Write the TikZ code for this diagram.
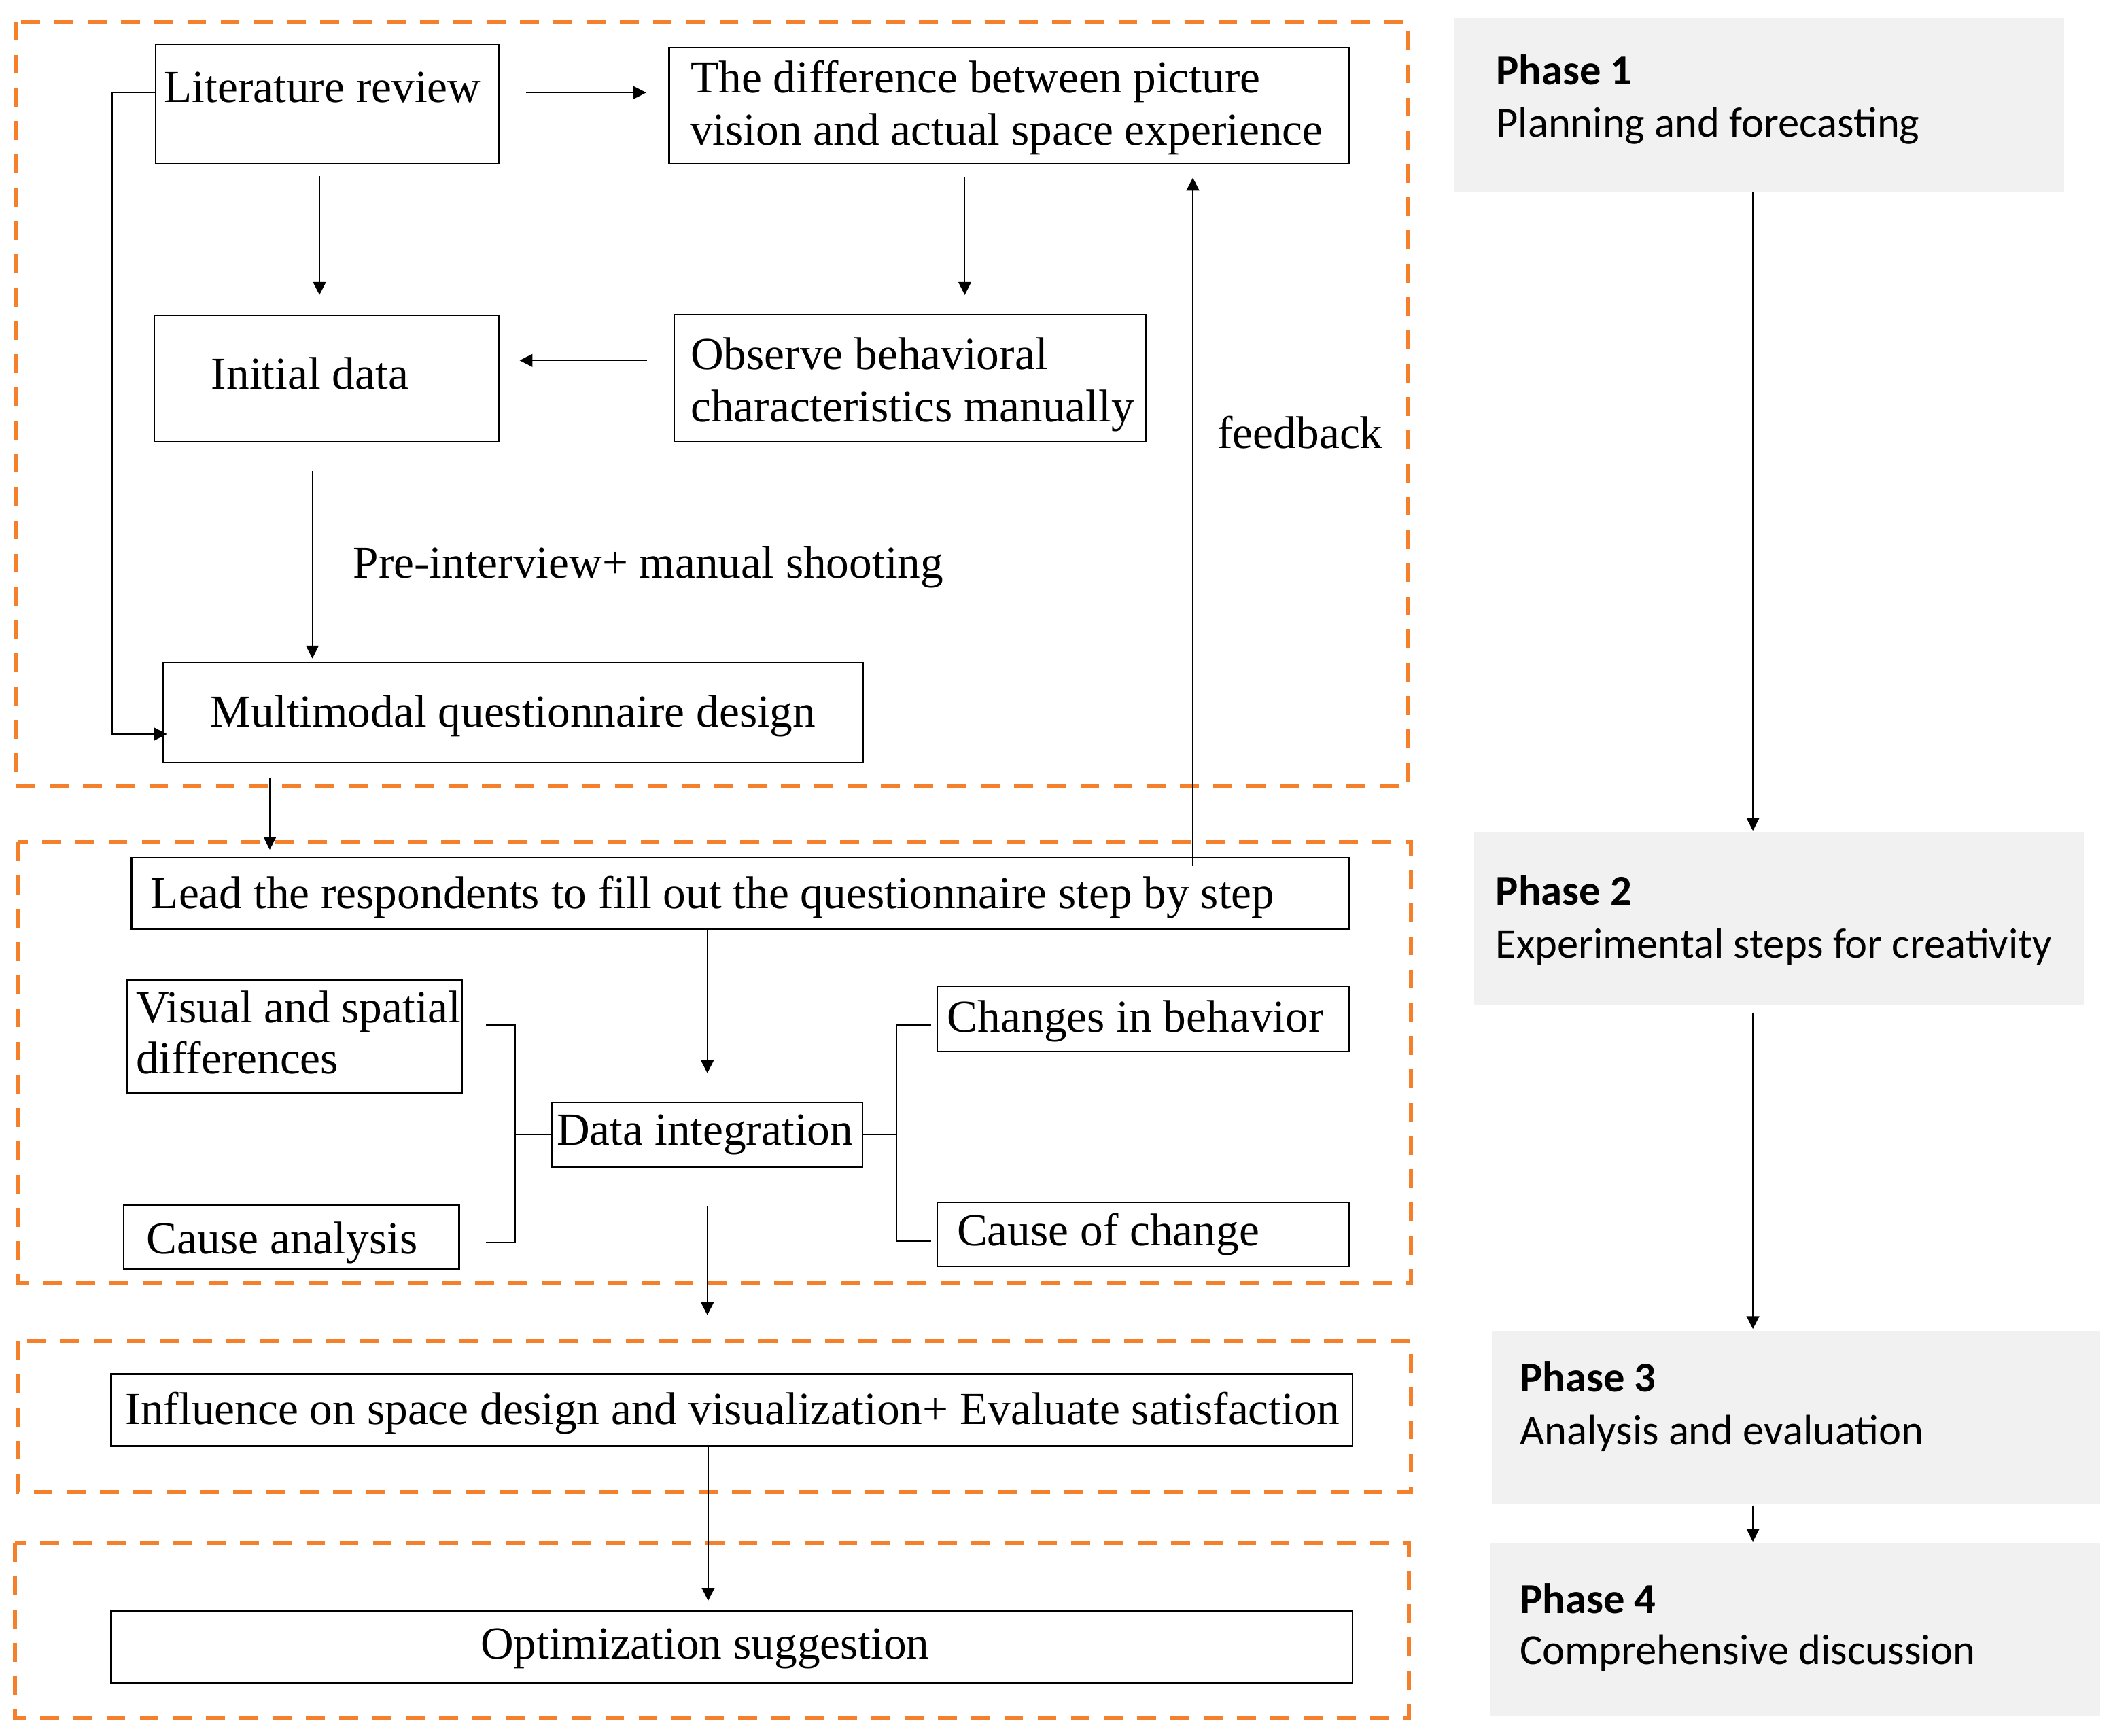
\documentclass[tikz,border=0pt]{standalone}
\usepackage{fontspec}
\setmainfont{Liberation Serif}
\newfontfamily\phasefont{Carlito}
\usetikzlibrary{arrows.meta}
\definecolor{dashorange}{RGB}{244,128,44}
\definecolor{phasegray}{RGB}{241,241,241}
\tikzset{
  box/.style={draw=black, line width=1.1pt, inner sep=0pt, outer sep=0pt},
  phasebox/.style={fill=phasegray, draw=none, inner sep=0pt, outer sep=0pt},
  stagebox/.style={draw=dashorange, line width=3pt, dash pattern=on 14pt off 10.7pt},
  txt/.style={inner sep=0pt, outer sep=0pt, anchor=base west, font=\fontsize{34}{39}\selectfont},
  ptitle/.style={inner sep=0pt, outer sep=0pt, anchor=base west, font=\phasefont\bfseries\fontsize{31.6}{39}\selectfont},
  pdesc/.style={inner sep=0pt, outer sep=0pt, anchor=base west, font=\phasefont\fontsize{31.6}{39}\selectfont},
  conn/.style={line width=0.85pt},
  arr/.style={conn, -{Triangle[length=9.5pt,width=9.5pt]}},
}
\newcommand\mkrect[6][box]{\node[#1, anchor=north west, minimum width={(#5-#3)*1pt}, minimum height={(#6-#4)*1pt}] (#2) at (#3,#4) {};}
\begin{document}
\begin{tikzpicture}[x=1pt,y=-1pt]
\useasboundingbox (0,0) rectangle (1568,1289);

% stage frames
\draw[stagebox] (12,16) rectangle (1046,584);
\draw[stagebox] (13.5,625.5) rectangle (1048,953);
\draw[stagebox] (13.5,996) rectangle (1048,1108);
\draw[stagebox] (11,1146) rectangle (1046.5,1275.5);

% phase boxes
\mkrect[phasebox]{p1}{1080.5}{13.5}{1533}{142.4}
\mkrect[phasebox]{p2}{1095}{618}{1548}{746}
\mkrect[phasebox]{p3}{1108}{988.5}{1560}{1116.5}
\mkrect[phasebox]{p4}{1107}{1146}{1560}{1274.5}

\node[ptitle] (p1a) at (1111.3,63) {Phase 1};
\node[pdesc]  (p1b) at (1111.3,101.9) {Planning and forecasting};
\node[ptitle] (p2a) at (1111,672) {Phase 2};
\node[pdesc]  (p2b) at (1111,711.5) {Experimental steps for creativity};
\node[ptitle] (p3a) at (1129,1033.6) {Phase 3};
\node[pdesc]  (p3b) at (1129,1072.8) {Analysis and evaluation};
\node[ptitle] (p4a) at (1129,1198) {Phase 4};
\node[pdesc]  (p4b) at (1129,1236) {Comprehensive discussion};

% process boxes
\mkrect{lit}{115.5}{33}{370.5}{121.7}
\mkrect{diff}{497}{35.4}{1002}{121.7}
\mkrect{init}{114.4}{234.4}{370.5}{328}
\mkrect{obs}{500.7}{233.7}{851}{328}
\mkrect{multi}{121.2}{492}{641}{566.3}
\mkrect{lead}{97.7}{637}{1002}{690}
\mkrect{vis}{94.2}{727.8}{343}{811.8}
\mkrect{cause}{92}{895.3}{341}{942.4}
\mkrect{data}{410}{818.8}{640.8}{866.8}
\mkrect{chg}{696}{732.5}{1002}{781}
\mkrect{coc}{696}{893}{1002}{940.4}
\mkrect{infl}{82.5}{1020.5}{1004.6}{1074}
\mkrect{opt}{82.5}{1196.3}{1004.6}{1249.7}

% texts
\node[txt] (litT) at (122,76) {Literature review};
\node[txt] (diffT1) at (513,68.7) {The difference between picture};
\node[txt] (diffT2) at (512.5,107.7) {vision and actual space experience};
\node[txt] (initT) at (157,289) {Initial data};
\node[txt] (obsT1) at (513,274.5) {Observe behavioral};
\node[txt] (obsT2) at (513,313) {characteristics manually};
\node[txt] (fbT) at (904.4,333) {feedback};
\node[txt] (preT) at (262.3,429.5) {Pre-interview+ manual shooting};
\node[txt] (multiT) at (156.4,540) {Multimodal questionnaire design};
\node[txt] (leadT) at (112,674.5) {Lead the respondents to fill out the questionnaire step by step};
\node[txt] (visT1) at (101,759.5) {Visual and spatial};
\node[txt] (visT2) at (101,797.6) {differences};
\node[txt] (dataT) at (413.6,850.3) {Data integration};
\node[txt] (chgT) at (703.7,766.5) {Changes in behavior};
\node[txt] (causeT) at (109,931.4) {Cause analysis};
\node[txt] (cocT) at (710.8,925.2) {Cause of change};
\node[txt] (inflT) at (93.3,1058) {Influence on space design and visualization+ Evaluate satisfaction};
\node[txt] (optT) at (357,1232) {Optimization suggestion};

% connectors
\coordinate (lrA) at ([yshift=8.55pt]lit.east);
\draw[arr, shorten <=20pt, shorten >=17pt] (lrA) -- (lrA -| diff.west);

\coordinate (liA) at ([xshift=-5.7pt]lit.south);
\draw[arr, shorten <=9.3pt, shorten >=15.4pt] (liA) -- (liA |- init.north);

\coordinate (doA) at ([xshift=-32.9pt]diff.south);
\draw[arr, shorten <=10.3pt, shorten >=14.7pt] (doA) -- (doA |- obs.north);

\coordinate (oiA) at ([yshift=13.15pt]obs.west);
\draw[arr, shorten <=20.2pt, shorten >=15.5pt] (oiA) -- (oiA -| init.east);

\coordinate (lmA) at ([yshift=8.55pt]lit.west);
\coordinate (lmB) at ([yshift=-16.05pt]multi.west);
\coordinate (lmC) at (83.3,0);
\draw[arr, shorten >=-2.8pt] (lmA) -- (lmA -| lmC) |- (lmB);

\coordinate (imA) at ([xshift=-10.45pt]init.south);
\draw[arr, shorten <=22pt, shorten >=3pt] (imA) -- (imA |- multi.north);

\coordinate (mlA) at ([xshift=-180.7pt]multi.south);
\draw[arr, shorten <=11.2pt, shorten >=6pt] (mlA) -- (mlA |- lead.north);

\draw[arr, shorten >=21.8pt] (data.north |- lead.south) -- (data.north);

\coordinate (fbA) at ([xshift=336.15pt]lead.north);
\draw[arr, shorten <=-6pt, shorten >=10.3pt] (fbA) -- (fbA |- diff.south);

\coordinate (bL1) at ([shift={(18pt,8.4pt)}]vis.east);
\coordinate (bL2) at ([shift={(20pt,-3.65pt)}]cause.east);
\coordinate (bLx) at (382.5,0);
\draw[conn] (bL1) -- (bL1 -| bLx) -- (bL2 -| bLx) -- (bL2);
\draw[conn] (data.west -| bLx) -- (data.west);

\coordinate (bR1) at ([shift={(-4.4pt,-4.65pt)}]chg.west);
\coordinate (bR2) at ([shift={(-4.4pt,-5.1pt)}]coc.west);
\coordinate (bRx) at (666,0);
\draw[conn] (bR1) -- (bR1 -| bRx) -- (bR2 -| bRx) -- (bR2);
\draw[conn] (data.east) -- (data.east -| bRx);

\draw[arr, shorten <=29.2pt, shorten >=43.8pt] (data.south) -- (data.south |- infl.north);

\coordinate (ioA) at ([xshift=-17.55pt]infl.south);
\draw[arr, shorten >=7.5pt] (ioA) -- (ioA |- opt.north);

\coordinate (pA) at ([xshift=-4.75pt]p1.south);
\draw[arr, shorten >=1pt] (pA) -- (pA |- p2.north);
\draw[arr, shorten <=6pt, shorten >=1.5pt] (pA |- p2.south) -- (pA |- p3.north);
\draw[arr, shorten <=1.5pt, shorten >=1pt] (pA |- p3.south) -- (pA |- p4.north);
\end{tikzpicture}
\end{document}
